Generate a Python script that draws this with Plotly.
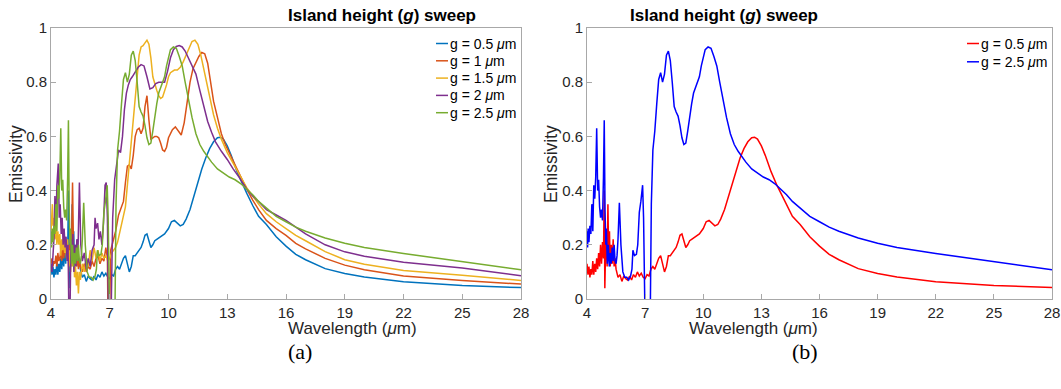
import plotly.graph_objects as go

# ---------------- data ----------------
x_ticks = [4, 7, 10, 13, 16, 19, 22, 25, 28]
y_ticks = [0, 0.2, 0.4, 0.6, 0.8, 1]
y_tick_labels = ["0", "0.2", "0.4", "0.6", "0.8", "1"]

labels = ["g = 0.5 <i>μ</i>m", "g = 1 <i>μ</i>m", "g = 1.5 <i>μ</i>m",
          "g = 2 <i>μ</i>m", "g = 2.5 <i>μ</i>m"]

# g = 0.5 um
x05 = [4.0, 4.05, 4.1, 4.15, 4.2, 4.25, 4.3, 4.35, 4.4, 4.45, 4.5, 4.55, 4.6, 4.65, 4.7, 4.75,
       4.8, 4.85, 4.89, 4.92, 4.96, 5.0, 5.04, 5.08, 5.12, 5.16, 5.2, 5.25, 5.3, 5.35, 5.4, 5.45,
       5.5, 5.6, 5.7, 5.8, 5.9, 6.0, 6.1, 6.2, 6.3, 6.4, 6.5, 6.6, 6.7, 6.8, 6.9, 7.0, 7.1, 7.2,
       7.3, 7.4, 7.5, 7.6, 7.7, 7.8, 7.9, 8.0, 8.1, 8.2, 8.3, 8.4, 8.5, 8.6, 8.7, 8.8, 8.9, 9.0,
       9.1, 9.2, 9.3, 9.4, 9.6, 9.8, 10.0, 10.15, 10.3, 10.45, 10.6, 10.75, 10.9, 11.1, 11.3,
       11.5, 11.7, 11.9, 12.1, 12.3, 12.5, 12.65, 12.8, 13.0, 13.2, 13.5, 13.8, 14.0, 14.3, 14.6,
       15.0, 15.5, 16.0, 16.5, 17, 18, 19, 20, 22, 25, 28]
y05 = [0.13, 0.09, 0.12, 0.08, 0.11, 0.09, 0.14, 0.09, 0.13, 0.10, 0.15, 0.11, 0.17, 0.12, 0.20, 0.13,
       0.21, 0.15, 0.40, 0.04, 0.18, 0.22, 0.12, 0.35, 0.15, 0.25, 0.12, 0.20, 0.13, 0.22, 0.12, 0.15,
       0.11, 0.08, 0.09, 0.065, 0.085, 0.075, 0.07, 0.085, 0.07, 0.09, 0.08, 0.10, 0.085, 0.095, 0.08, 0.075, 0.09, 0.085,
       0.11, 0.12, 0.11, 0.13, 0.15, 0.16, 0.13, 0.10, 0.12, 0.16, 0.16, 0.17, 0.18, 0.19, 0.21, 0.235, 0.24, 0.21,
       0.19, 0.20, 0.215, 0.22, 0.23, 0.24, 0.26, 0.285, 0.29, 0.28, 0.27, 0.275, 0.295, 0.33, 0.38,
       0.43, 0.48, 0.52, 0.555, 0.58, 0.595, 0.597, 0.59, 0.565, 0.53, 0.47, 0.42, 0.39, 0.345, 0.305,
       0.275, 0.23, 0.195, 0.165, 0.145, 0.112, 0.094, 0.081, 0.064, 0.05, 0.042]

# g = 1 um
x10 = [4.0, 4.05, 4.1, 4.15, 4.2, 4.25, 4.3, 4.35, 4.4, 4.45, 4.5, 4.55, 4.6, 4.65, 4.7, 4.75, 4.8,
       4.85, 4.9, 4.95, 5.0, 5.05, 5.1, 5.15, 5.2, 5.25, 5.3, 5.35, 5.4, 5.45, 5.5, 5.6, 5.7, 5.8,
       5.9, 6.0, 6.1, 6.2, 6.3, 6.4, 6.5, 6.6, 6.7, 6.8, 6.88, 6.93, 6.98, 7.05, 7.15, 7.3, 7.45,
       7.6, 7.7, 7.8, 7.9, 8.0, 8.1, 8.2, 8.3, 8.4, 8.5, 8.6, 8.7, 8.8, 8.9, 9.0, 9.1, 9.2, 9.3,
       9.4, 9.5, 9.6, 9.7, 9.8, 9.9, 10.0, 10.1, 10.2, 10.35, 10.5, 10.65, 10.8, 10.95, 11.1,
       11.25, 11.4, 11.55, 11.7, 11.85, 12.0, 12.15, 12.3, 12.5, 12.7, 12.9, 13.1, 13.4, 13.7,
       14.0, 14.3, 14.6, 15.0, 15.5, 16.0, 16.5, 17, 18, 19, 20, 22, 25, 28]
y10 = [0.13, 0.15, 0.12, 0.14, 0.13, 0.16, 0.12, 0.17, 0.14, 0.15, 0.18, 0.14, 0.20, 0.15, 0.18, 0.21, 0.15,
       0.19, 0.16, 0.20, 0.14, 0.20, 0.43, 0.18, 0.13, 0.19, 0.12, 0.16, 0.11, 0.14, 0.12, 0.10, 0.13, 0.10,
       0.12, 0.11, 0.14, 0.12, 0.15, 0.16, 0.13, 0.15, 0.14, 0.19, 0.15, -0.2, -0.1, 0.18, 0.21, 0.25, 0.31,
       0.34, 0.36, 0.43, 0.49, 0.495, 0.48, 0.53, 0.60, 0.625, 0.63, 0.61, 0.63, 0.71, 0.75, 0.66, 0.59, 0.595, 0.60,
       0.60, 0.595, 0.575, 0.55, 0.545, 0.56, 0.595, 0.61, 0.625, 0.635, 0.62, 0.605, 0.65, 0.72, 0.80,
       0.85, 0.875, 0.895, 0.91, 0.905, 0.87, 0.80, 0.73, 0.67, 0.61, 0.57, 0.54, 0.49, 0.45,
       0.405, 0.365, 0.33, 0.29, 0.26, 0.235, 0.205, 0.185, 0.15, 0.125, 0.108, 0.085, 0.068, 0.055]

# g = 1.5 um
x15 = [4.0, 4.03, 4.07, 4.1, 4.15, 4.2, 4.25, 4.3, 4.35, 4.4, 4.45, 4.5, 4.55, 4.6, 4.65, 4.7, 4.75,
       4.8, 4.85, 4.9, 4.95, 5.0, 5.05, 5.1, 5.15, 5.2, 5.25, 5.3, 5.35, 5.4, 5.45, 5.5, 5.6, 5.7,
       5.8, 5.9, 6.0, 6.1, 6.2, 6.3, 6.4, 6.5, 6.6, 6.7, 6.8, 6.9, 7.0, 7.1, 7.2, 7.3, 7.4, 7.5,
       7.6, 7.7, 7.8, 7.9, 8.0, 8.1, 8.2, 8.3, 8.4, 8.5, 8.6, 8.7, 8.8, 8.9, 9.0, 9.1, 9.2, 9.3,
       9.4, 9.5, 9.6, 9.7, 9.8, 9.9, 10.0, 10.1, 10.2, 10.3, 10.45, 10.6, 10.75, 10.9, 11.05, 11.2,
       11.35, 11.5, 11.65, 11.8, 11.95, 12.1, 12.3, 12.5, 12.7, 13.0, 13.3, 13.6, 14.0, 14.3, 14.6,
       15.0, 15.5, 16.0, 16.5, 17, 18, 19, 20, 22, 25, 28]
y15 = [0.25, 0.30, 0.35, 0.27, 0.30, 0.22, 0.28, 0.20, 0.25, 0.20, 0.24, 0.16, 0.22, 0.18, 0.23, 0.17, 0.20,
       0.15, 0.22, 0.12, 0.18, 0.10, 0.20, 0.12, 0.18, 0.08, 0.12, 0.05, 0.10, 0.02, 0.10, 0.07, 0.13, 0.10,
       0.15, 0.12, 0.18, 0.14, 0.19, 0.15, 0.18, 0.14, 0.17, 0.15, 0.16, 0.14, 0.15, 0.17, 0.18, 0.19, 0.21, 0.24,
       0.27, 0.30, 0.34, 0.42, 0.50, 0.60, 0.67, 0.76, 0.84, 0.90, 0.93, 0.935, 0.945, 0.955, 0.94, 0.89, 0.82, 0.79,
       0.77, 0.75, 0.74, 0.745, 0.765, 0.79, 0.82, 0.835, 0.84, 0.845, 0.845, 0.855, 0.875, 0.90, 0.93, 0.95,
       0.955, 0.94, 0.90, 0.85, 0.79, 0.74, 0.68, 0.63, 0.59, 0.54, 0.50, 0.46, 0.41, 0.38, 0.35,
       0.315, 0.285, 0.26, 0.235, 0.215, 0.175, 0.145, 0.128, 0.105, 0.088, 0.068]

# g = 2 um
x20 = [4.0, 4.05, 4.1, 4.15, 4.2, 4.25, 4.3, 4.37, 4.42, 4.47, 4.52, 4.57, 4.62, 4.67, 4.72, 4.77,
       4.82, 4.87, 4.92, 4.97, 5.02, 5.07, 5.12, 5.17, 5.22, 5.27, 5.32, 5.37, 5.45, 5.52, 5.6, 5.7,
       5.8, 5.9, 6.0, 6.1, 6.2, 6.25, 6.3, 6.38, 6.45, 6.52, 6.6, 6.68, 6.76, 6.82, 6.88, 6.95, 7.0,
       7.06, 7.15, 7.25, 7.35, 7.45, 7.55, 7.65, 7.75, 7.85, 7.95, 8.05, 8.15, 8.3, 8.45, 8.6, 8.75,
       8.9, 9.05, 9.2, 9.35, 9.5, 9.65, 9.8, 9.95, 10.1, 10.25, 10.4, 10.55, 10.7, 10.85, 11.0, 11.2,
       11.4, 11.6, 11.8, 12.0, 12.2, 12.4, 12.7, 13.0, 13.3, 13.6, 14.0, 14.3, 14.6, 15.0, 15.5,
       16.0, 16.5, 17, 18, 19, 20, 22, 25, 28]
y20 = [0.13, 0.10, 0.16, 0.22, 0.38, 0.27, 0.42, 0.50, 0.30, 0.35, 0.24, 0.30, 0.20, 0.26, 0.19, 0.23,
       0.14, 0.20, -0.1, -0.05, 0.22, 0.14, 0.24, 0.10, 0.20, 0.12, 0.22, 0.15, 0.43, 0.20, 0.14, 0.17,
       0.11, 0.15, 0.12, 0.18, 0.20, 0.30, 0.26, 0.28, 0.22, 0.25, 0.20, 0.28, 0.42, 0.43, 0.30, -0.2, -0.5,
       -0.1, 0.30, 0.44, 0.50, 0.55, 0.54, 0.60, 0.70, 0.76, 0.79, 0.81, 0.82, 0.84, 0.855, 0.865, 0.86,
       0.82, 0.775, 0.78, 0.795, 0.80, 0.80, 0.80, 0.84, 0.89, 0.92, 0.932, 0.935, 0.93, 0.915, 0.89, 0.86,
       0.83, 0.77, 0.71, 0.655, 0.615, 0.58, 0.545, 0.515, 0.48, 0.45, 0.405, 0.38, 0.36, 0.33, 0.31,
       0.29, 0.265, 0.24, 0.2, 0.174, 0.158, 0.136, 0.114, 0.086]

# g = 2.5 um
x25 = [4.0, 4.03, 4.06, 4.1, 4.15, 4.2, 4.25, 4.3, 4.35, 4.4, 4.45, 4.5, 4.55, 4.6, 4.65, 4.7, 4.75,
       4.8, 4.85, 4.89, 4.93, 4.97, 5.0, 5.05, 5.1, 5.15, 5.2, 5.25, 5.3, 5.35, 5.4, 5.45, 5.5, 5.55,
       5.6, 5.67, 5.75, 5.85, 5.95, 6.05, 6.15, 6.25, 6.32, 6.37, 6.45, 6.55, 6.62, 6.7, 6.78, 6.87,
       6.92, 6.97, 7.1, 7.26, 7.32, 7.4, 7.5, 7.6, 7.7, 7.8, 7.9, 8.0, 8.1, 8.2, 8.3, 8.4, 8.5, 8.6,
       8.7, 8.8, 8.9, 9.0, 9.1, 9.2, 9.3, 9.4, 9.5, 9.6, 9.7, 9.8, 9.9, 10.0, 10.1, 10.25, 10.4,
       10.55, 10.7, 10.85, 11.0, 11.2, 11.4, 11.6, 11.8, 12.0, 12.2, 12.5, 12.8, 13.1, 13.4, 13.7,
       14.0, 14.3, 14.6, 15.0, 15.5, 16.0, 16.5, 17, 18, 19, 20, 22, 25, 28]
y25 = [0.25, 0.19, 0.26, 0.21, 0.27, 0.24, 0.35, 0.25, 0.42, 0.37, 0.45, 0.63, 0.40, 0.44, 0.34, 0.30, 0.33,
       0.29, 0.45, 0.66, 0.33, 0.20, 0.26, 0.13, 0.20, 0.12, 0.17, 0.13, 0.19, 0.14, 0.20, 0.14, 0.13, 0.16,
       0.22, 0.355, 0.20, 0.10, 0.08, 0.08, 0.07, 0.085, 0.11, 0.18, 0.16, 0.165, 0.20, 0.32, 0.36, 0.42,
       0.30, -0.3, -0.6, -0.1, 0.35, 0.55, 0.62, 0.72, 0.81, 0.835, 0.80, 0.83, 0.90, 0.915, 0.88, 0.80, 0.71, 0.69,
       0.675, 0.64, 0.595, 0.57, 0.575, 0.62, 0.675, 0.72, 0.76, 0.78, 0.80, 0.82, 0.86, 0.895, 0.92, 0.93, 0.925,
       0.895, 0.86, 0.80, 0.74, 0.67, 0.61, 0.57, 0.545, 0.525, 0.505, 0.48, 0.465, 0.45, 0.44, 0.425,
       0.405, 0.385, 0.36, 0.335, 0.305, 0.285, 0.265, 0.25, 0.225, 0.206, 0.19, 0.168, 0.138, 0.108]

series_a = [(x05, y05), (x10, y10), (x15, y15), (x20, y20), (x25, y25)]
colors_a = ["#0072BD", "#D95319", "#EDB120", "#7E2F8E", "#77AC30"]
colors_b = ["#FF0000", "#0000FF"]
labels_b = [labels[0], labels[4]]

# ---------------- figure ----------------
W, H = 1061, 389
FONT = "Liberation Sans, Arial, sans-serif"


def px_x(p):
    return p / W


def px_y(p):
    return 1 - p / H


fig = go.Figure()
for (xs, ys), c, lab in zip(series_a, colors_a, labels):
    fig.add_trace(go.Scatter(x=xs, y=ys, mode="lines", name=lab,
                             line=dict(color=c, width=1.5),
                             xaxis="x", yaxis="y", showlegend=False))

for (xs, ys), c, lab in zip([(x05, y05), (x25, y25)], colors_b, labels_b):
    fig.add_trace(go.Scatter(x=xs, y=ys, mode="lines", name=lab,
                             line=dict(color=c, width=1.5),
                             xaxis="x2", yaxis="y2", showlegend=False))

axis_common = dict(showline=True, mirror=True, linecolor="#a8a8a8", linewidth=1,
                   ticks="inside", ticklen=5, tickcolor="#a8a8a8", tickwidth=1,
                   showgrid=False, zeroline=False, automargin=False,
                   tickfont=dict(family=FONT, size=15, color="#262626"))

ydom = [px_y(299), px_y(28)]
xa = dict(axis_common, range=[4, 28], tickvals=x_ticks, domain=[px_x(51), px_x(521)], anchor="y")
xb = dict(axis_common, range=[4, 28], tickvals=x_ticks, domain=[px_x(587), px_x(1052)], anchor="y2")
ya = dict(axis_common, range=[0, 1], tickvals=y_ticks, ticktext=y_tick_labels, domain=ydom, anchor="x")
yb = dict(axis_common, range=[0, 1], tickvals=y_ticks, ticktext=y_tick_labels, domain=ydom, anchor="x2")

annotations = []
shapes = []
for cx in [(51 + 521) / 2, (587 + 1052) / 2]:
    annotations.append(dict(text="<b>Island height (<i>g</i>) sweep</b>", x=px_x(cx), y=px_y(15),
                            xref="paper", yref="paper", showarrow=False, yanchor="middle",
                            font=dict(family=FONT, size=17, color="#000000")))
    annotations.append(dict(text="Wavelength (<i>μ</i>m)", x=px_x(cx), y=px_y(328),
                            xref="paper", yref="paper", showarrow=False, yanchor="middle",
                            font=dict(family=FONT, size=17, color="#262626")))
for cx, t in [((51 + 521) / 2, "(a)"), ((587 + 1052) / 2, "(b)")]:
    annotations.append(dict(text=t, x=px_x(cx), y=px_y(351), xref="paper", yref="paper",
                            showarrow=False, yanchor="middle",
                            font=dict(family="Liberation Serif, DejaVu Serif, serif", size=22,
                                      color="#000000")))
for lx in [16, 551]:
    annotations.append(dict(text="Emissivity", x=px_x(lx), y=px_y(164), xref="paper", yref="paper",
                            showarrow=False, textangle=-90, xanchor="center", yanchor="middle",
                            font=dict(family=FONT, size=17.5, color="#262626")))


# legends (key line + label)
def add_legend(x_line0, x_line1, x_text, y0, dy, cols, labs):
    for i, (c, lab) in enumerate(zip(cols, labs)):
        yy = y0 + i * dy
        shapes.append(dict(type="line", xref="paper", yref="paper",
                           x0=px_x(x_line0), x1=px_x(x_line1), y0=px_y(yy), y1=px_y(yy),
                           line=dict(color=c, width=1.5)))
        annotations.append(dict(text=lab, x=px_x(x_text), y=px_y(yy), xref="paper", yref="paper",
                                showarrow=False, xanchor="left", yanchor="middle",
                                font=dict(family=FONT, size=14, color="#000000")))


add_legend(436, 448, 448, 43.5, 17.3, colors_a, labels)
add_legend(967, 979, 979, 43.5, 18.3, colors_b, labels_b)

fig.update_layout(
    width=W, height=H,
    margin=dict(l=0, r=0, t=0, b=0, autoexpand=False),
    paper_bgcolor="white", plot_bgcolor="white",
    xaxis=xa, yaxis=ya, xaxis2=xb, yaxis2=yb,
    annotations=annotations, shapes=shapes,
    showlegend=False,
)

fig.write_html("out.html",
               config={"displayModeBar": False},
               post_script="document.body.style.margin='0';document.body.style.overflow='hidden';")
